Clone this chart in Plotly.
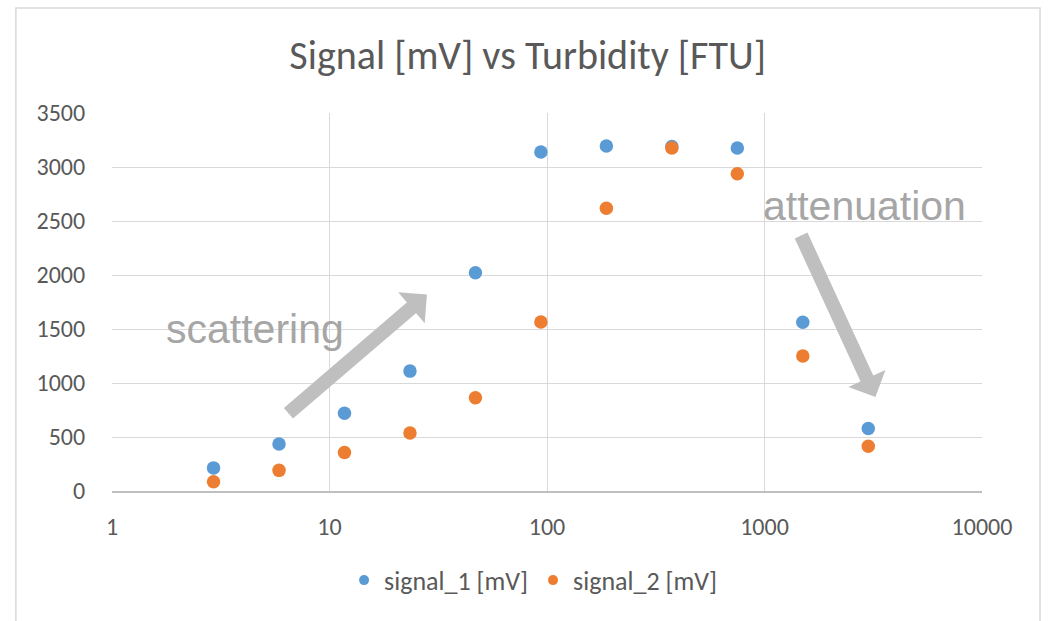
import plotly.graph_objects as go

turbidity = [2.93, 5.86, 11.72, 23.44, 46.88, 93.75, 187.5, 375, 750, 1500, 3000]
signal_1 = [214, 436, 720, 1110, 2021, 3139, 3195, 3190, 3176, 1562, 579]
signal_2 = [86, 191, 357, 538, 863, 1565, 2619, 3176, 2937, 1250, 414]

x_ticks = [1, 10, 100, 1000, 10000]
x_labels = ["1", "10", "100", "1000", "10000"]
y_ticks = [0, 500, 1000, 1500, 2000, 2500, 3000, 3500]

series_names = ["signal_1 [mV]", "signal_2 [mV]"]
series_colors = ["#5b9bd5", "#ed7d31"]

FONT = "Carlito, Lato, sans-serif"
TXT = "#595959"

fig = go.Figure()
for vals, name, col in zip([signal_1, signal_2], series_names, series_colors):
    fig.add_trace(go.Scatter(x=turbidity, y=vals, mode="markers", name=name,
                             showlegend=False, marker=dict(color=col, size=13.5)))
# legend entries (smaller markers as in the reference legend)
for name, col in zip(series_names, series_colors):
    fig.add_trace(go.Scatter(x=[None], y=[None], mode="markers", name=name,
                             marker=dict(color=col, size=10)))

fig.update_layout(
    width=1049, height=621,
    margin=dict(l=112, r=67, t=113, b=130),
    paper_bgcolor="white", plot_bgcolor="white",
    title=dict(text="Signal [mV] vs Turbidity [FTU]", x=0.503, xanchor="center",
               y=0.911, yanchor="middle", font=dict(family=FONT, size=40, color=TXT)),
    font=dict(family=FONT, color=TXT, size=24),
    showlegend=True,
    legend=dict(orientation="h", x=0.484, xanchor="center", y=-0.236, yanchor="middle",
                font=dict(family=FONT, size=26, color=TXT), itemwidth=30,
                tracegroupgap=0, bgcolor="rgba(0,0,0,0)"),
    xaxis=dict(type="log", range=[0, 4], tickvals=x_ticks, ticktext=x_labels,
               showgrid=True, gridcolor="#d9d9d9", gridwidth=1,
               showline=True, linecolor="#bfbfbf", linewidth=1.5,
               ticks="outside", ticklen=13, tickcolor="rgba(0,0,0,0)",
               tickfont=dict(family=FONT, size=24, color=TXT), zeroline=False),
    yaxis=dict(range=[0, 3500], tickvals=y_ticks,
               showgrid=True, gridcolor="#d9d9d9", gridwidth=1,
               showline=False, ticks="outside", ticklen=21, tickcolor="rgba(0,0,0,0)",
               tickfont=dict(family=FONT, size=24, color=TXT), zeroline=False),
)

# outer chart border
fig.add_shape(type="rect", xref="paper", yref="paper",
              x0=-0.1105, x1=1.0667, y0=-0.36, y1=1.2778,
              line=dict(color="#d9d9d9", width=1.5), fillcolor="rgba(0,0,0,0)", layer="below")

ANN_FONT = dict(family="Liberation Sans, Arial, sans-serif", size=41, color="#a6a6a6")
fig.add_annotation(x=0.659, y=1504, xref="x", yref="y", text="scattering",
                   showarrow=False, font=ANN_FONT)
fig.add_annotation(x=3.462, y=2640, xref="x", yref="y", text="attenuation",
                   showarrow=False, font=ANN_FONT)

ARROW_COL = "#bfbfbf"
arrows = [dict(x=1.448, y=1819, ax=-140, ay=120),
          dict(x=3.51, y=870, ax=-75, ay=-163)]
for a in arrows:
    # shaft, stopping where the head begins
    fig.add_annotation(xref="x", yref="y", axref="pixel", ayref="pixel", text="",
                       showarrow=True, arrowhead=0, arrowwidth=14, arrowcolor=ARROW_COL,
                       standoff=19, **a)
    # triangular head
    fig.add_annotation(xref="x", yref="y", axref="pixel", ayref="pixel", text="",
                       showarrow=True, arrowhead=1, arrowwidth=1, arrowsize=6.8,
                       arrowcolor=ARROW_COL, standoff=0, **a)

fig.write_html("out.html", post_script="document.body.style.margin='0';",
               config={"displayModeBar": False})
